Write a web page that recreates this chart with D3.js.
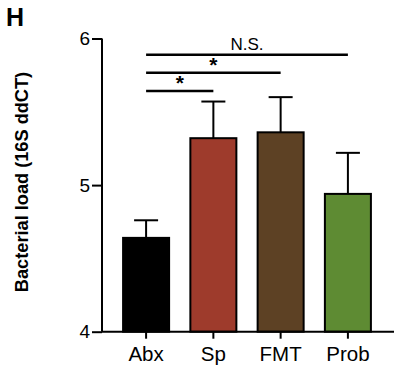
<!DOCTYPE html>
<html>
<head>
<meta charset="utf-8">
<script src="https://cdn.jsdelivr.net/npm/d3@7"></script>
<style>
  body { margin: 0; background: #fff; }
  text { font-family: "Liberation Sans", Arial, sans-serif; }
</style>
</head>
<body>
<div id="wrapper"></div>
<script>
const groups = ["Abx", "Sp", "FMT", "Prob"];
const means = [4.64, 5.32, 5.36, 4.94];
const errors = [0.12, 0.25, 0.24, 0.28];
const colors = ["#000000", "#9e3b2c", "#5d4124", "#5e8b33"];
const yTicks = [4, 5, 6];
// comparisons: [from, to, label]
const comparisons = [
  ["Abx", "Prob", "N.S."],
  ["Abx", "FMT", "*"],
  ["Abx", "Sp", "*"],
];

const W = 400, H = 374;
const svg = d3.select(`#wrapper`)
  .append(`svg`)
  .attr(`width`, W)
  .attr(`height`, H);

const xScale = d3.scaleBand()
  .domain(groups)
  .range([113, 381])
  .paddingInner(0.316)
  .paddingOuter(0.15);

const yScale = d3.scaleLinear()
  .domain([4, 6])
  .range([331.7, 38.5]);

const axisX = 102;
const baseY = yScale(4);

// bars
svg.selectAll(`.bar`)
  .data(groups)
  .enter().append(`rect`)
  .attr(`class`, `bar`)
  .attr(`x`, d => xScale(d))
  .attr(`y`, (d, i) => yScale(means[i]))
  .attr(`width`, xScale.bandwidth())
  .attr(`height`, (d, i) => baseY - yScale(means[i]))
  .attr(`fill`, (d, i) => colors[i])
  .attr(`stroke`, `#000`)
  .attr(`stroke-width`, 2);

// error bars (upper only)
const cx = d => xScale(d) + xScale.bandwidth() / 2;
svg.selectAll(`.err`)
  .data(groups)
  .enter().append(`line`)
  .attr(`x1`, cx).attr(`x2`, cx)
  .attr(`y1`, (d, i) => yScale(means[i]))
  .attr(`y2`, (d, i) => yScale(means[i] + errors[i]))
  .attr(`stroke`, `#000`).attr(`stroke-width`, 2);

svg.selectAll(`.cap`)
  .data(groups)
  .enter().append(`line`)
  .attr(`x1`, d => cx(d) - 12).attr(`x2`, d => cx(d) + 12)
  .attr(`y1`, (d, i) => yScale(means[i] + errors[i]))
  .attr(`y2`, (d, i) => yScale(means[i] + errors[i]))
  .attr(`stroke`, `#000`).attr(`stroke-width`, 2);

// y axis
const yAxis = svg.append(`g`)
  .attr(`transform`, `translate(${axisX},0)`)
  .call(d3.axisLeft(yScale).tickValues(yTicks).tickFormat(d3.format(`d`)).tickSize(10).tickPadding(2));
yAxis.select(`.domain`).attr(`stroke-width`, 2).attr(`d`, `M0,${yScale(6)}V${baseY}`);
yAxis.selectAll(`.tick line`).attr(`stroke-width`, 2);
yAxis.selectAll(`.tick text`).attr(`font-size`, 19).attr(`fill`, `#000`);

// x axis
const xAxis = svg.append(`g`)
  .attr(`transform`, `translate(0,${baseY})`)
  .call(d3.axisBottom(xScale).tickSize(7).tickPadding(8));
xAxis.select(`.domain`).attr(`stroke-width`, 2).attr(`d`, `M${axisX},0H394`);
xAxis.selectAll(`.tick line`).attr(`stroke-width`, 2);
xAxis.selectAll(`.tick text`).attr(`font-size`, 20.5).attr(`fill`, `#000`);

// significance brackets
const sigY = [54.7, 72.7, 91];
comparisons.forEach((c, i) => {
  const x1 = cx(c[0]), x2 = cx(c[1]);
  svg.append(`line`)
    .attr(`x1`, x1).attr(`x2`, x2)
    .attr(`y1`, sigY[i]).attr(`y2`, sigY[i])
    .attr(`stroke`, `#000`).attr(`stroke-width`, 2.5);
  const isStar = c[2] === `*`;
  svg.append(`text`)
    .attr(`x`, (x1 + x2) / 2)
    .attr(`y`, isStar ? sigY[i] - 1 : sigY[i] - 5)
    .attr(`text-anchor`, `middle`)
    .attr(`font-size`, isStar ? 21 : 17)
    .attr(`font-weight`, isStar ? `bold` : `normal`)
    .text(c[2]);
});

// y label
svg.append(`text`)
  .attr(`transform`, `translate(28,182) rotate(-90)`)
  .attr(`text-anchor`, `middle`)
  .attr(`font-size`, 18.2)
  .attr(`font-weight`, `bold`)
  .text(`Bacterial load (16S ddCT)`);

// panel letter
svg.append(`text`)
  .attr(`x`, 6).attr(`y`, 25.7)
  .attr(`font-size`, 25)
  .attr(`font-weight`, `bold`)
  .text(`H`);
</script>
</body>
</html>
